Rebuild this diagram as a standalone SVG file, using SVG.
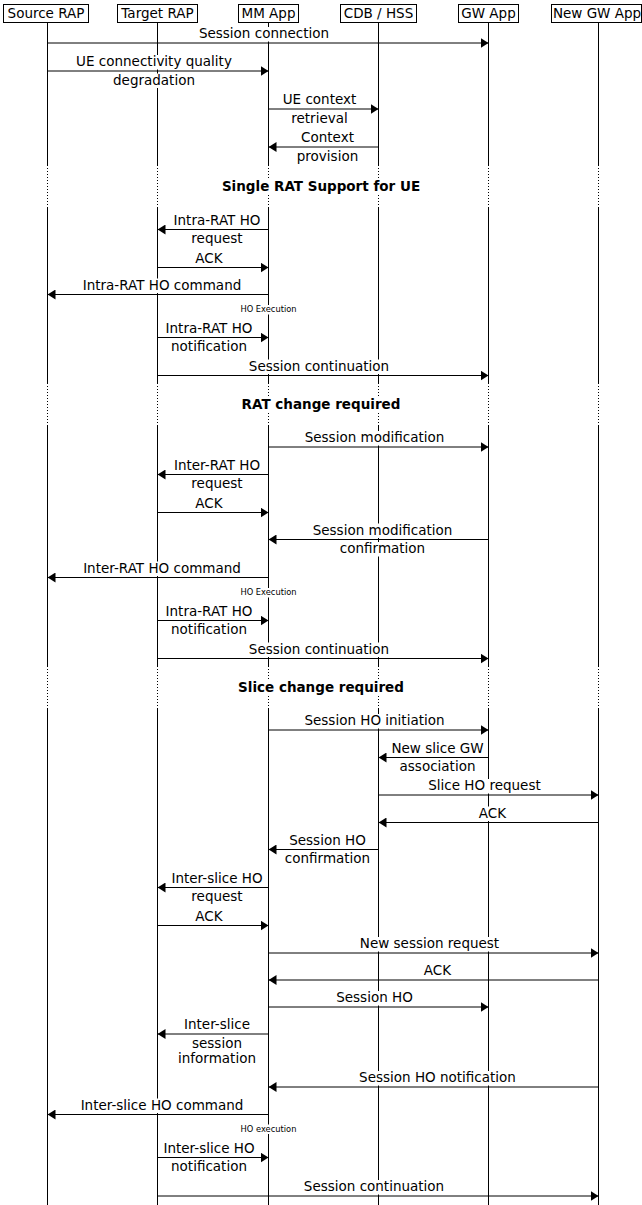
<svg xmlns="http://www.w3.org/2000/svg" width="642" height="1205" viewBox="0 0 642 1205">
<style>
.t{font-family:"DejaVu Sans","Liberation Sans",sans-serif;font-size:13.5px;text-anchor:middle;fill:#000}
.b{font-weight:bold}
.s{font-size:8.3px}
.bg{fill:#fff}
.ll{stroke:#000;stroke-width:1;fill:none}
.dot{stroke:#000;stroke-width:1;stroke-dasharray:1 2;fill:none}
.box{fill:#fff;stroke:#000;stroke-width:1}
.m{stroke:#000;stroke-width:1;fill:none;marker-end:url(#ah)}
</style>
<defs>
<marker id="ah" markerUnits="userSpaceOnUse" markerWidth="8" markerHeight="10" refX="8" refY="5" orient="auto" viewBox="0 0 8 10">
<path d="M0,0 L8,5 L0,10 z" fill="#000"/>
</marker>
</defs>
<rect width="642" height="1205" fill="#fff"/>

<g id="node-source-rap">
<path class="ll" d="M47.5 23V165M47.5 208V383M47.5 426V666M47.5 708V1205"/>
<path class="dot" d="M47.5 165V208M47.5 383V426M47.5 666V708"/>
<rect class="box" x="3.5" y="4.5" width="85" height="18"/>
<text class="t" x="46" y="17.5">Source RAP</text>
</g>
<g id="node-target-rap">
<path class="ll" d="M157.5 23V165M157.5 208V383M157.5 426V666M157.5 708V1205"/>
<path class="dot" d="M157.5 165V208M157.5 383V426M157.5 666V708"/>
<rect class="box" x="117.5" y="4.5" width="80" height="18"/>
<text class="t" x="157.5" y="17.5">Target RAP</text>
</g>
<g id="node-mm-app">
<path class="ll" d="M268.5 23V165M268.5 208V383M268.5 426V666M268.5 708V1205"/>
<path class="dot" d="M268.5 165V208M268.5 383V426M268.5 666V708"/>
<rect class="box" x="238.5" y="4.5" width="60" height="18"/>
<text class="t" x="268.5" y="17.5">MM App</text>
</g>
<g id="node-cdb-hss">
<path class="ll" d="M378.5 23V165M378.5 208V383M378.5 426V666M378.5 708V1205"/>
<path class="dot" d="M378.5 165V208M378.5 383V426M378.5 666V708"/>
<rect class="box" x="340.5" y="4.5" width="76" height="18"/>
<text class="t" x="378.5" y="17.5">CDB / HSS</text>
</g>
<g id="node-gw-app">
<path class="ll" d="M488.5 23V165M488.5 208V383M488.5 426V666M488.5 708V1205"/>
<path class="dot" d="M488.5 165V208M488.5 383V426M488.5 666V708"/>
<rect class="box" x="458.5" y="4.5" width="60" height="18"/>
<text class="t" x="488.5" y="17.5">GW App</text>
</g>
<g id="node-new-gw-app">
<path class="ll" d="M598.5 23V165M598.5 208V383M598.5 426V666M598.5 708V1205"/>
<path class="dot" d="M598.5 165V208M598.5 383V426M598.5 666V708"/>
<rect class="box" x="551.5" y="4.5" width="90" height="18"/>
<text class="t" x="597" y="17.5">New GW App</text>
</g>

<g id="sep-single-rat">
<rect class="bg" x="226" y="179.5" width="190" height="14.5"/>
<text class="t b" x="321" y="190.5">Single RAT Support for UE</text>
</g>
<g id="sep-rat-change">
<rect class="bg" x="244" y="397.5" width="154" height="14.5"/>
<text class="t b" x="321" y="408.5">RAT change required</text>
</g>
<g id="sep-slice-change">
<rect class="bg" x="241.5" y="680.5" width="159" height="14.5"/>
<text class="t b" x="321" y="691.5">Slice change required</text>
</g>

<g id="connectors">
<!-- label backgrounds -->
<g class="bg">
<rect x="198.9" y="27" width="132.2" height="14.5"/>
<rect x="75.1" y="55" width="157.8" height="14.5"/>
<rect x="112" y="73.5" width="84" height="14.5"/>
<rect x="281.6" y="93" width="75.8" height="14.5"/>
<rect x="290.1" y="111.5" width="58.8" height="14.5"/>
<rect x="300" y="131" width="55.1" height="14.5"/>
<rect x="295.6" y="149.5" width="63.7" height="14.5"/>
<rect x="171.7" y="213.5" width="90.5" height="14.5"/>
<rect x="190.2" y="232" width="53.6" height="14.5"/>
<rect x="194.2" y="251.5" width="29.5" height="14.5"/>
<rect x="80.9" y="278.5" width="162.1" height="14.5"/>
<rect x="239.5" y="305" width="58" height="9.5"/>
<rect x="163.7" y="321.5" width="90.5" height="14.5"/>
<rect x="170" y="340" width="77.9" height="14.5"/>
<rect x="247.2" y="359.5" width="143.6" height="14.5"/>
<rect x="303.7" y="431" width="141.6" height="14.5"/>
<rect x="171.7" y="458.5" width="90.5" height="14.5"/>
<rect x="190.2" y="477" width="53.6" height="14.5"/>
<rect x="194.2" y="496.5" width="29.5" height="14.5"/>
<rect x="311.7" y="523.5" width="141.6" height="14.5"/>
<rect x="338.7" y="542" width="87.6" height="14.5"/>
<rect x="80.9" y="561.5" width="162.2" height="14.5"/>
<rect x="239.5" y="588" width="58" height="9.5"/>
<rect x="163.7" y="604.5" width="90.5" height="14.5"/>
<rect x="170" y="623" width="77.9" height="14.5"/>
<rect x="247.2" y="642.5" width="143.6" height="14.5"/>
<rect x="303.5" y="714" width="142.1" height="14.5"/>
<rect x="390.4" y="741.5" width="94.2" height="14.5"/>
<rect x="395.3" y="760" width="84.5" height="14.5"/>
<rect x="427.1" y="779" width="114.8" height="14.5"/>
<rect x="477.8" y="806.5" width="29.5" height="14.5"/>
<rect x="288.2" y="833.5" width="78.6" height="14.5"/>
<rect x="283.7" y="852" width="87.6" height="14.5"/>
<rect x="170" y="871.5" width="93.9" height="14.5"/>
<rect x="190.2" y="890" width="53.6" height="14.5"/>
<rect x="194.2" y="909.5" width="29.5" height="14.5"/>
<rect x="357.9" y="937" width="143.2" height="14.5"/>
<rect x="421.8" y="964" width="29.5" height="14.5"/>
<rect x="335.2" y="991" width="78.6" height="14.5"/>
<rect x="182.6" y="1018" width="68.8" height="14.5"/>
<rect x="191" y="1037" width="52" height="14.5"/>
<rect x="176.9" y="1051.5" width="80.2" height="14.5"/>
<rect x="358.1" y="1071" width="158.8" height="14.5"/>
<rect x="79.2" y="1098.5" width="165.6" height="14.5"/>
<rect x="239.5" y="1124.5" width="58" height="9.5"/>
<rect x="162" y="1141.5" width="93.9" height="14.5"/>
<rect x="170" y="1160" width="77.9" height="14.5"/>
<rect x="302.2" y="1180" width="143.6" height="14.5"/>
</g>
<!-- labels -->
<text class="t" x="264" y="38">Session connection</text>
<text class="t" x="154" y="66">UE connectivity quality</text>
<text class="t" x="154" y="84.5">degradation</text>
<text class="t" x="319.5" y="104">UE context</text>
<text class="t" x="319.5" y="122.5">retrieval</text>
<text class="t" x="327.5" y="142">Context</text>
<text class="t" x="327.5" y="160.5">provision</text>
<text class="t" x="217" y="224.5">Intra-RAT HO</text>
<text class="t" x="217" y="243">request</text>
<text class="t" x="209" y="262.5">ACK</text>
<text class="t" x="162" y="289.5">Intra-RAT HO command</text>
<text class="t s" x="268.5" y="312">HO Execution</text>
<text class="t" x="209" y="332.5">Intra-RAT HO</text>
<text class="t" x="209" y="351">notification</text>
<text class="t" x="319" y="370.5">Session continuation</text>
<text class="t" x="374.5" y="442">Session modification</text>
<text class="t" x="217" y="469.5">Inter-RAT HO</text>
<text class="t" x="217" y="488">request</text>
<text class="t" x="209" y="507.5">ACK</text>
<text class="t" x="382.5" y="534.5">Session modification</text>
<text class="t" x="382.5" y="553">confirmation</text>
<text class="t" x="162" y="572.5">Inter-RAT HO command</text>
<text class="t s" x="268.5" y="595">HO Execution</text>
<text class="t" x="209" y="615.5">Intra-RAT HO</text>
<text class="t" x="209" y="634">notification</text>
<text class="t" x="319" y="653.5">Session continuation</text>
<text class="t" x="374.5" y="725">Session HO initiation</text>
<text class="t" x="437.5" y="752.5">New slice GW</text>
<text class="t" x="437.5" y="771">association</text>
<text class="t" x="484.5" y="790">Slice HO request</text>
<text class="t" x="492.5" y="817.5">ACK</text>
<text class="t" x="327.5" y="844.5">Session HO</text>
<text class="t" x="327.5" y="863">confirmation</text>
<text class="t" x="217" y="882.5">Inter-slice HO</text>
<text class="t" x="217" y="901">request</text>
<text class="t" x="209" y="920.5">ACK</text>
<text class="t" x="429.5" y="948">New session request</text>
<text class="t" x="437.5" y="975">ACK</text>
<text class="t" x="374.5" y="1002">Session HO</text>
<text class="t" x="217" y="1029">Inter-slice</text>
<text class="t" x="217" y="1048">session</text>
<text class="t" x="217" y="1062.5">information</text>
<text class="t" x="437.5" y="1082">Session HO notification</text>
<text class="t" x="162" y="1109.5">Inter-slice HO command</text>
<text class="t s" x="268.5" y="1131.5">HO execution</text>
<text class="t" x="209" y="1152.5">Inter-slice HO</text>
<text class="t" x="209" y="1171">notification</text>
<text class="t" x="374" y="1191">Session continuation</text>
<!-- arrows -->
<line class="m" x1="47.5" y1="43" x2="488.5" y2="43"/>
<line class="m" x1="47.5" y1="71" x2="268.5" y2="71"/>
<line class="m" x1="268.5" y1="109" x2="378.5" y2="109"/>
<line class="m" x1="378.5" y1="147" x2="268.5" y2="147"/>
<line class="m" x1="268.5" y1="229.5" x2="157.5" y2="229.5"/>
<line class="m" x1="157.5" y1="267.5" x2="268.5" y2="267.5"/>
<line class="m" x1="268.5" y1="294.5" x2="47.5" y2="294.5"/>
<line class="m" x1="157.5" y1="337.5" x2="268.5" y2="337.5"/>
<line class="m" x1="157.5" y1="375.5" x2="488.5" y2="375.5"/>
<line class="m" x1="268.5" y1="447" x2="488.5" y2="447"/>
<line class="m" x1="268.5" y1="474.5" x2="157.5" y2="474.5"/>
<line class="m" x1="157.5" y1="512.5" x2="268.5" y2="512.5"/>
<line class="m" x1="488.5" y1="539.5" x2="268.5" y2="539.5"/>
<line class="m" x1="268.5" y1="577.5" x2="47.5" y2="577.5"/>
<line class="m" x1="157.5" y1="620.5" x2="268.5" y2="620.5"/>
<line class="m" x1="157.5" y1="658.5" x2="488.5" y2="658.5"/>
<line class="m" x1="268.5" y1="730" x2="488.5" y2="730"/>
<line class="m" x1="488.5" y1="757.5" x2="378.5" y2="757.5"/>
<line class="m" x1="378.5" y1="795" x2="598.5" y2="795"/>
<line class="m" x1="598.5" y1="822.5" x2="378.5" y2="822.5"/>
<line class="m" x1="378.5" y1="849.5" x2="268.5" y2="849.5"/>
<line class="m" x1="268.5" y1="887.5" x2="157.5" y2="887.5"/>
<line class="m" x1="157.5" y1="925.5" x2="268.5" y2="925.5"/>
<line class="m" x1="268.5" y1="953" x2="598.5" y2="953"/>
<line class="m" x1="598.5" y1="980" x2="268.5" y2="980"/>
<line class="m" x1="268.5" y1="1007" x2="488.5" y2="1007"/>
<line class="m" x1="268.5" y1="1034" x2="157.5" y2="1034"/>
<line class="m" x1="598.5" y1="1087" x2="268.5" y2="1087"/>
<line class="m" x1="268.5" y1="1114.5" x2="47.5" y2="1114.5"/>
<line class="m" x1="157.5" y1="1157.5" x2="268.5" y2="1157.5"/>
<line class="m" x1="157.5" y1="1196" x2="598.5" y2="1196"/>
</g>
</svg>
